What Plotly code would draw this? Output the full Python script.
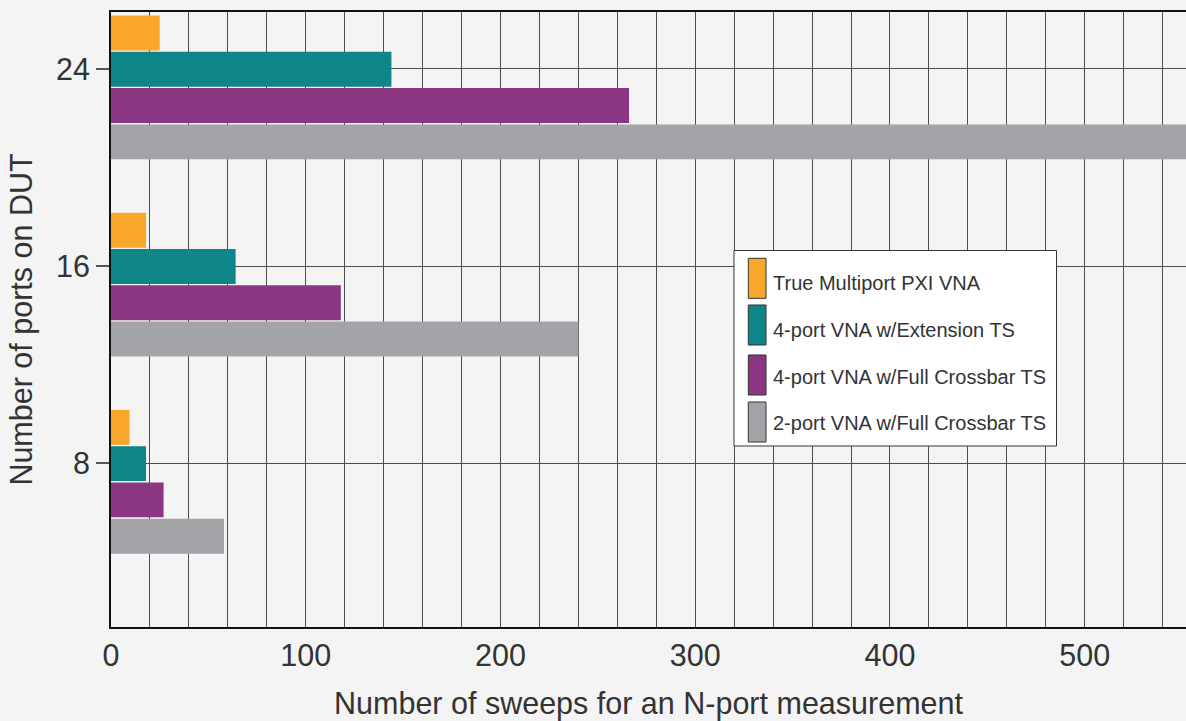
import plotly.graph_objects as go

# ---- data ----
ports = ["8", "16", "24"]
series_names = [
    "True Multiport PXI VNA",
    "4-port VNA w/Extension TS",
    "4-port VNA w/Full Crossbar TS",
    "2-port VNA w/Full Crossbar TS",
]
true_multiport = [9.5, 18, 25]
ext_ts = [18, 64, 144]
crossbar_4port = [27, 118, 266]
crossbar_2port = [58, 240, 552]
x_ticks = [0, 100, 200, 300, 400, 500]

series_values = [true_multiport, ext_ts, crossbar_4port, crossbar_2port]
colors = ["#F9A72B", "#0E8689", "#8B3682", "#A4A3A8"]
offsets = [0.094, -0.090, -0.274, -0.458]
bar_w = 0.177

FONT = "Liberation Sans, Arial, Helvetica, sans-serif"
TXT = "#333333"
GRID = "#4d4d4d"

fig = go.Figure()
for name, vals, col, off in zip(series_names, series_values, colors, offsets):
    fig.add_trace(go.Bar(
        name=name, y=ports, x=vals, orientation="h",
        width=bar_w, offset=off,
        marker=dict(color=col, line=dict(width=0)),
        showlegend=False,
    ))

W, H = 1186, 721
ML, MR, MT, MB = 111, 0, 12, 94
PW, PH = W - ML - MR, H - MT - MB


def px(xp):
    return (xp - ML) / PW


def py(yp):
    return (H - MB - yp) / PH


shapes = []
annotations = []
# legend box
shapes.append(dict(type="rect", xref="paper", yref="paper", layer="above",
                   x0=px(734), x1=px(1056.5), y0=py(446), y1=py(250.5),
                   fillcolor="white", line=dict(color="#333333", width=1)))
sw_tops = [258.3, 305, 355, 402]
txt_centers = [282.5, 330, 377, 423]
for name, col, top, tc in zip(series_names, colors, sw_tops, txt_centers):
    shapes.append(dict(type="rect", xref="paper", yref="paper", layer="above",
                       x0=px(748.3), x1=px(766), y0=py(top + 40), y1=py(top),
                       fillcolor=col, line=dict(color="#333333", width=1)))
    annotations.append(dict(xref="paper", yref="paper", x=px(771), y=py(tc),
                            xanchor="left", yanchor="middle", showarrow=False,
                            text=name, font=dict(family=FONT, size=20, color=TXT)))

fig.update_layout(
    width=W, height=H,
    margin=dict(l=ML, r=MR, t=MT, b=MB, pad=0),
    paper_bgcolor="#F4F4F4", plot_bgcolor="#F4F4F4",
    barmode="overlay",
    showlegend=False,
    font=dict(family=FONT, color=TXT, size=30),
    shapes=shapes, annotations=annotations,
    xaxis=dict(
        range=[0, 552], tickmode="array", tickvals=x_ticks,
        ticktext=[str(v) for v in x_ticks],
        showgrid=True, gridcolor=GRID, gridwidth=1,
        minor=dict(dtick=20, tick0=0, showgrid=True, gridcolor=GRID, gridwidth=1),
        zeroline=False,
        showline=True, mirror=True, linecolor="#111111", linewidth=2,
        ticks="",
        tickfont=dict(family=FONT, size=30.5, color=TXT),
        title=dict(text="Number of sweeps for an N-port measurement",
                   font=dict(family=FONT, size=30.5, color=TXT), standoff=32),
        automargin=False, fixedrange=True,
    ),
    yaxis=dict(
        type="category", categoryorder="array", categoryarray=ports,
        range=[-0.830, 2.289],
        showgrid=True, gridcolor=GRID, gridwidth=1,
        zeroline=False,
        showline=True, mirror=False, linecolor="#111111", linewidth=2,
        ticks="outside", ticklen=13, tickcolor="#555555", tickwidth=1.5,
        tickfont=dict(family=FONT, size=30.5, color=TXT),
        title=dict(text="Number of ports on DUT",
                   font=dict(family=FONT, size=30.5, color=TXT), standoff=14),
        automargin=False, fixedrange=True, layer="below traces",
    ),
)

fig.write_html(
    "out.html",
    config={"displayModeBar": False},
    post_script="document.body.style.margin='0';document.body.style.overflow='hidden';",
)
